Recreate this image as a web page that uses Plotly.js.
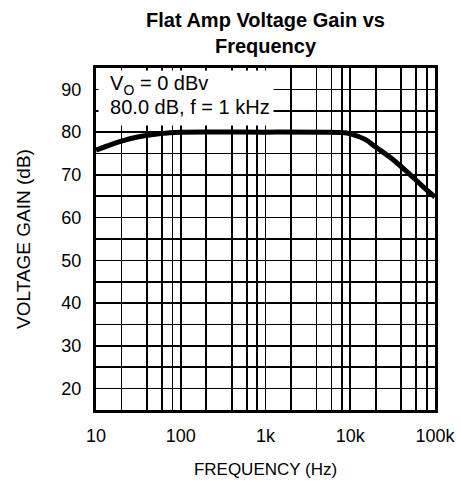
<!DOCTYPE html>
<html>
<head>
<meta charset="utf-8">
<script src="https://cdn.plot.ly/plotly-3.0.1.min.js"></script>
<style>html,body{margin:0;padding:0;background:#fff;}#chart{width:461px;height:483px;}</style>
</head>
<body>
<div id="chart"></div>
<script>
// Frequency (Hz) and voltage gain (dB)
const freqHz = [10, 15, 20, 30, 50, 70, 100, 1000, 5000, 8000, 10000, 15000, 20000, 30000, 50000, 70000, 100000];
const gainDb = [75.8, 77.1, 77.9, 78.8, 79.5, 79.8, 80, 80, 80, 79.9, 79.6, 78.3, 76.5, 74.0, 70.2, 67.5, 64.8];

const xTickVals = [10, 100, 1000, 10000, 100000];
const xTickText = ['10', '100', '1k', '10k', '100k'];
const xMinorVals = [20, 40, 60, 80, 200, 400, 600, 800, 2000, 4000, 6000, 8000, 20000, 40000, 60000, 80000];
const yTickVals = [20, 30, 40, 50, 60, 70, 80, 90];

const FONT = 'Liberation Sans, Arial, sans-serif';

const trace = {
  x: freqHz, y: gainDb, type: 'scatter', mode: 'lines',
  line: {color: '#000', width: 5, shape: 'spline', smoothing: 1},
  hoverinfo: 'skip', showlegend: false
};

const layout = {
  width: 461, height: 483,
  margin: {l: 96, r: 26, t: 68, b: 73},
  paper_bgcolor: '#fff', plot_bgcolor: '#fff',
  font: {family: FONT, color: '#000', size: 18},
  showlegend: false,
  title: {
    text: '<b>Flat Amp Voltage Gain vs<br>Frequency</b>',
    font: {family: FONT, size: 20, color: '#000'},
    x: 0.5, xref: 'paper', xanchor: 'center',
    y: 1 - 27 / 483, yref: 'container', yanchor: 'middle'
  },
  xaxis: {
    type: 'log', range: [1, 5],
    tickmode: 'array', tickvals: xTickVals, ticktext: xTickText,
    ticks: '', ticklabelstandoff: 7,
    tickfont: {family: FONT, size: 18, color: '#000'},
    showgrid: true, gridcolor: '#000', gridwidth: 1.6,
    minor: {tickmode: 'array', tickvals: xMinorVals, showgrid: true, gridcolor: '#000', gridwidth: 1.6, ticks: ''},
    showline: true, linecolor: '#000', linewidth: 3, mirror: true,
    zeroline: false, fixedrange: true,
    title: {text: 'FREQUENCY (Hz)', font: {family: FONT, size: 17, color: '#000'}, standoff: 19}
  },
  yaxis: {
    range: [15, 95],
    tickmode: 'array', tickvals: yTickVals,
    ticks: '', ticklabelstandoff: 8,
    tickfont: {family: FONT, size: 18, color: '#000'},
    showgrid: true, gridcolor: '#000', gridwidth: 1.6,
    minor: {dtick: 5, tick0: 0, showgrid: true, gridcolor: '#000', gridwidth: 1.6, ticks: ''},
    showline: true, linecolor: '#000', linewidth: 3, mirror: true,
    zeroline: false, fixedrange: true,
    title: {text: 'VOLTAGE GAIN (dB)', font: {family: FONT, size: 19, color: '#000'}, standoff: 26}
  },
  annotations: [
    {
      text: '\u00a0\u00a0V<sub>O</sub> = 0 dBv', xref: 'paper', yref: 'paper',
      x: 0, xanchor: 'left', xshift: 2, y: 1, yanchor: 'top', yshift: -2,
      width: 174, height: 28, align: 'left', valign: 'middle',
      bgcolor: '#fff', borderpad: 0, showarrow: false,
      font: {family: FONT, size: 20, color: '#000'}
    },
    {
      text: '\u00a0\u00a080.0 dB, f = 1 kHz', xref: 'paper', yref: 'paper',
      x: 0, xanchor: 'left', xshift: 2, y: 1, yanchor: 'top', yshift: -27,
      width: 174, height: 29, align: 'left', valign: 'top',
      bgcolor: '#fff', borderpad: 0, showarrow: false,
      font: {family: FONT, size: 20, color: '#000'}
    }
  ]
};

Plotly.newPlot('chart', [trace], layout, {displayModeBar: false, staticPlot: true});
</script>
</body>
</html>
